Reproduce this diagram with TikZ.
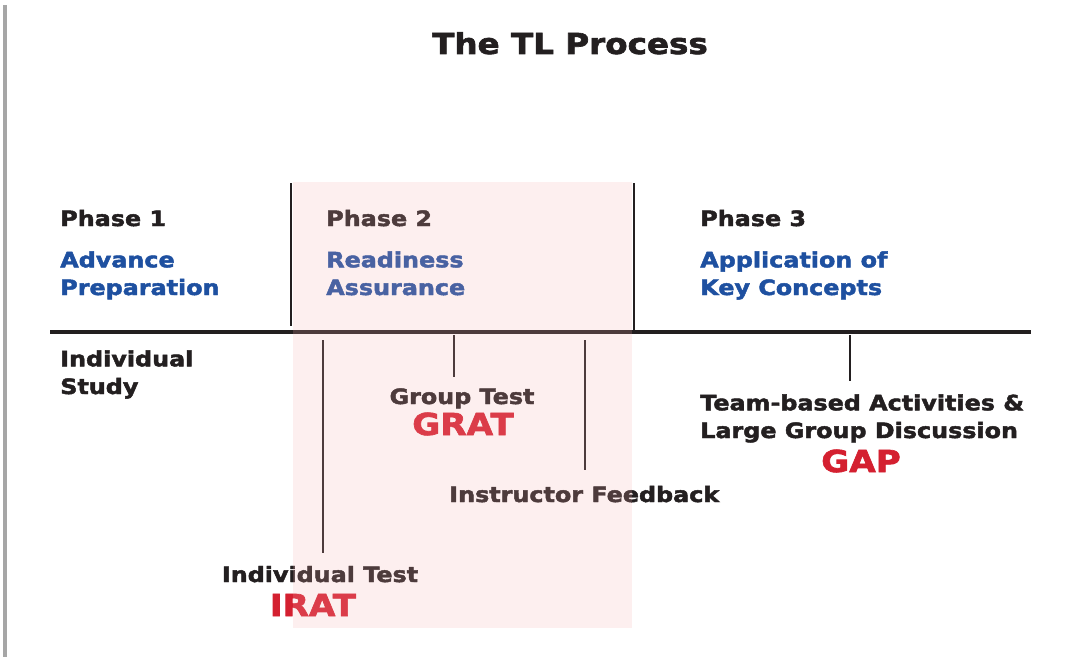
\documentclass[tikz,border=0pt]{standalone}
\usepackage{fontspec}
\setmainfont{DejaVu Sans}[FakeStretch=1.13, BoldFeatures={FakeBold=2.2}]
\usetikzlibrary{positioning}
\definecolor{tlblack}{RGB}{35,31,32}
\definecolor{tlblue}{RGB}{30,80,160}
\definecolor{tlred}{RGB}{212,32,48}
\definecolor{tlpink}{rgb}{0.97,0.68,0.68}
\tikzset{
 title/.style={anchor=base, inner sep=0pt, text=tlblack, font=\bfseries\fontsize{20.5}{24}\selectfont},
 phase/.style={anchor=base west, inner sep=0pt, text=tlblack, font=\bfseries\fontsize{15}{19.7}\selectfont},
 stage/.style={phase, align=left, text=tlblue},
 activity/.style={phase, align=left},
 activityc/.style={phase, anchor=base},
 rat/.style={anchor=base, inner sep=0pt, text=tlred, font=\bfseries\fontsize{21.5}{24}\selectfont},
 axis/.style={line width=3.5pt, tlblack},
 divider/.style={line width=1.3pt, tlblack},
 tick/.style={line width=1.3pt, tlblack},
 }

\begin{document}
\begin{tikzpicture}[x=0.025cm,y=-0.025cm]
    \useasboundingbox (0,0) rectangle (1070,657);
    \draw[line width=2.2pt, gray!70] (5,5) -- (5,657);

    \node[title] (title) at (570,54) {The TL Process};

    % phases above the line (base = last line)
    \node[phase] (p1) at (60,226) {Phase 1};
    \node[stage] (s1) at (60,295) {Advance\\Preparation};
    \node[phase] (p2) at (326,226) {Phase 2};
    \node[stage] (s2) at (326,295) {Readiness\\Assurance};
    \node[phase] (p3) at (700,226) {Phase 3};
    \node[stage] (s3) at (700,295) {Application of\\Key Concepts};

    % time line
    \coordinate (axL) at (50,332);
    \coordinate (axR) at (1031,332);
    \draw[axis] (axL) -- (axR);
    \coordinate (d1top) at (291,183);
    \coordinate (d1bot) at (291,326);
    \coordinate (d2top) at (634,183);
    \coordinate (d2bot) at (634,330);
    \draw[divider] (d1top) -- (d1bot);
    \draw[divider] (d2top) -- (d2bot);

    % activities below the line
    \node[activity] (study) at (60,394) {Individual\\Study};
    \node[activityc] (itest) at (320,582) {Individual Test};
    \node[rat] (irat) at (313,616) {IRAT};
    \node[activityc] (gtest) at (462,404) {Group Test};
    \node[rat] (grat) at (463,435) {GRAT};
    \node[activity] (feedback) at (449,502) {Instructor Feedback};
    \node[activity] (team) at (700,438) {Team-based Activities \&\\Large Group Discussion};
    \node[rat] (gap) at (861,472) {GAP};

    \coordinate (t1) at (323,340);
    \coordinate (t1e) at (323,553);
    \coordinate (t2) at (454,335);
    \coordinate (t2e) at (454,377);
    \coordinate (t3) at (585,340);
    \coordinate (t3e) at (585,470);
    \coordinate (t4) at (850,335);
    \coordinate (t4e) at (850,381);
    \foreach \a in {1,2,3,4}
        \draw[tick] (t\a) -- (t\a e);

    % phase 2 band
    \fill[tlpink, fill opacity=0.2] (293,182) rectangle (632,628);
\end{tikzpicture}
\end{document}
